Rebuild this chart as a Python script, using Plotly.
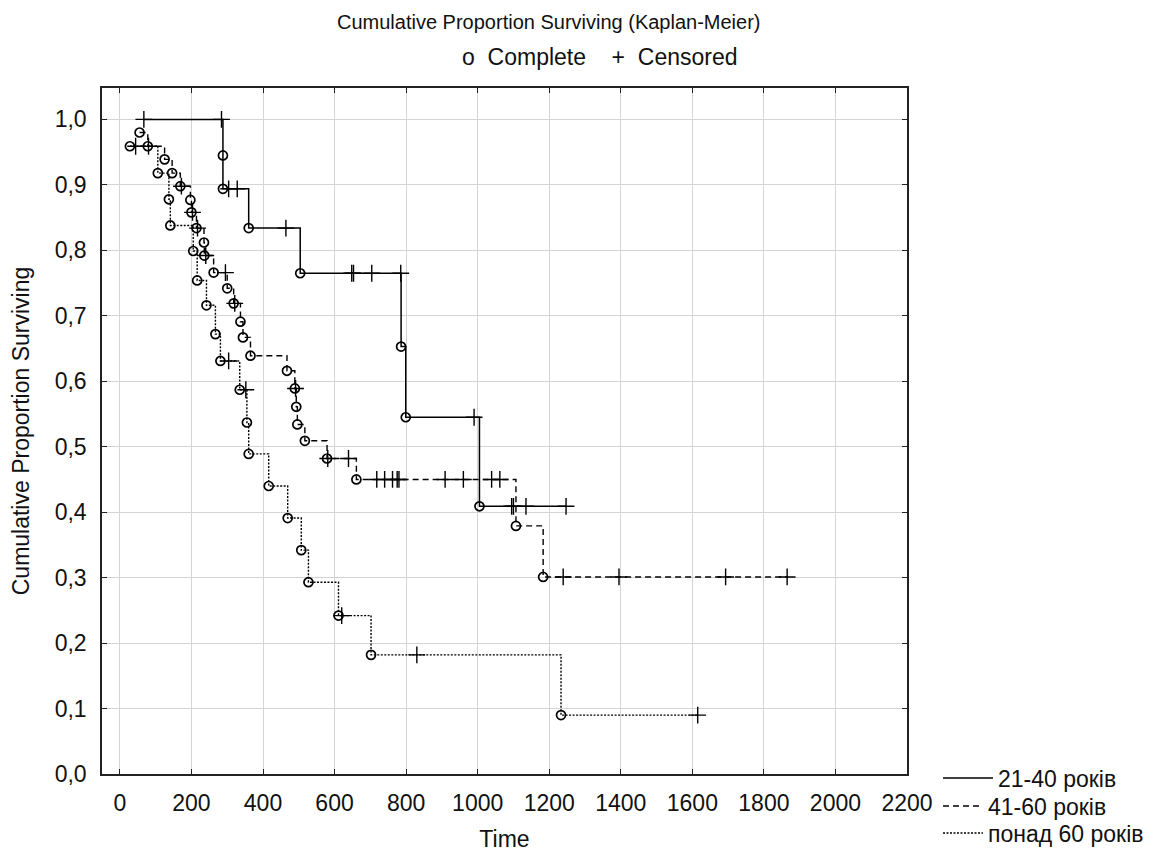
import plotly.graph_objects as go

# ---------------- data ----------------
# status: 1 = complete (event), 0 = censored
g1_time = [67, 284, 288, 288, 304, 328, 360, 464, 504, 648, 653, 704, 785, 786, 799, 990, 1005, 1095, 1100, 1135, 1247]
g1_surv = [1.0, 1.0, 0.945, 0.894, 0.894, 0.894, 0.834, 0.834, 0.765, 0.765, 0.765, 0.765, 0.765, 0.653, 0.545, 0.545, 0.409, 0.409, 0.409, 0.409, 0.409]
g1_status = [0, 0, 1, 1, 0, 0, 1, 0, 1, 0, 0, 0, 0, 1, 1, 0, 1, 0, 0, 0, 0]

g2_time = [55, 78, 80, 125, 146, 169, 172, 197, 200, 203, 214, 217, 235, 236, 240, 262, 295, 300, 318, 321, 337, 344, 365,
           467, 489, 491, 493, 496, 517, 579, 581, 639, 661, 718, 740, 762, 775, 780, 909, 960, 1039, 1062, 1107, 1183,
           1239, 1395, 1693, 1865]
g2_surv = [0.980, 0.959, 0.959, 0.939, 0.918, 0.898, 0.898, 0.877, 0.858, 0.858, 0.834, 0.834, 0.812, 0.792, 0.792, 0.766,
           0.766, 0.742, 0.719, 0.719, 0.691, 0.667, 0.639, 0.616, 0.589, 0.589, 0.561, 0.534, 0.509, 0.482, 0.482, 0.482,
           0.450, 0.450, 0.450, 0.450, 0.450, 0.450, 0.450, 0.450, 0.450, 0.450, 0.379, 0.301, 0.301, 0.301, 0.301, 0.301]
g2_status = [1, 1, 0, 1, 1, 1, 0, 1, 1, 0, 1, 0, 1, 1, 0, 1, 0, 1, 1, 0, 1, 1, 1,
             1, 1, 0, 1, 1, 1, 1, 0, 0, 1, 0, 0, 0, 0, 0, 0, 0, 0, 0, 1, 1,
             0, 0, 0, 0]

g3_time = [28, 44, 106, 137, 141, 205, 216, 242, 267, 281, 304, 335, 352, 355, 360, 416, 469, 507, 527, 611, 620, 702, 830, 1233, 1615]
g3_surv = [0.959, 0.959, 0.918, 0.878, 0.838, 0.799, 0.754, 0.716, 0.672, 0.631, 0.631, 0.587, 0.587, 0.537, 0.489, 0.440,
           0.391, 0.342, 0.293, 0.242, 0.242, 0.182, 0.182, 0.090, 0.090]
g3_status = [1, 0, 1, 1, 1, 1, 1, 1, 1, 1, 0, 1, 0, 1, 1, 1, 1, 1, 1, 1, 0, 1, 0, 1, 0]

group_names = ["21-40 років", "41-60 років", "понад 60 років"]

x_tickvals = [0, 200, 400, 600, 800, 1000, 1200, 1400, 1600, 1800, 2000, 2200]
x_ticktext = ["0", "200", "400", "600", "800", "1000", "1200", "1400", "1600", "1800", "2000", "2200"]
y_tickvals = [0.0, 0.1, 0.2, 0.3, 0.4, 0.5, 0.6, 0.7, 0.8, 0.9, 1.0]
y_ticktext = ["0,0", "0,1", "0,2", "0,3", "0,4", "0,5", "0,6", "0,7", "0,8", "0,9", "1,0"]

title_text = "Cumulative Proportion Surviving (Kaplan-Meier)"
subtitle_text = "o  Complete    +  Censored"
x_title = "Time"
y_title = "Cumulative Proportion Surviving"

# ---------------- figure ----------------
FONT = "Liberation Sans, Arial, sans-serif"
FS = 23
dashes = ["solid", "6px,4px", "2px,1.5px"]
widths = [1.5, 1.4, 1.4]

L, R, T, B = 102, 256, 88, 78
PW, PH = 1163 - L - R, 852 - T - B

fig = go.Figure()
groups = [(g1_time, g1_surv, g1_status), (g2_time, g2_surv, g2_status), (g3_time, g3_surv, g3_status)]
for (t, s, st), dash, w in zip(groups, dashes, widths):
    fig.add_trace(go.Scatter(x=t, y=s, mode="lines", line=dict(color="black", width=w, dash=dash, shape="hv"),
                             showlegend=False, hoverinfo="skip"))
    fig.add_trace(go.Scatter(x=[a for a, c in zip(t, st) if c == 1], y=[b for b, c in zip(s, st) if c == 1],
                             mode="markers", showlegend=False,
                             marker=dict(symbol="circle-open", size=9, color="black", line=dict(width=1.7, color="black"))))
    fig.add_trace(go.Scatter(x=[a for a, c in zip(t, st) if c == 0], y=[b for b, c in zip(s, st) if c == 0],
                             mode="markers", showlegend=False,
                             marker=dict(symbol="cross-thin-open", size=12, color="black", line=dict(width=1.4, color="black"))))

legend_ids = ["legend", "legend2", "legend3"]
for name, dash, w, lid in zip(group_names, dashes, widths, legend_ids):
    fig.add_trace(go.Scatter(x=[None], y=[None], mode="lines", name=name, legend=lid,
                             line=dict(color="black", width=w, dash=dash)))

axis_common = dict(showgrid=True, gridcolor="#d4d4d4", gridwidth=1, showline=True, linecolor="#222", linewidth=1.5,
                   mirror="ticks", ticks="inside", ticklen=5, tickcolor="#222", tickwidth=1.2, zeroline=False,
                   automargin=False, tickfont=dict(family=FONT, size=FS, color="#111"))


def legend_box(row_y, item_w):
    return dict(x=(938 - L) / PW, xanchor="left", y=(852 - B - row_y) / PH, yanchor="middle",
                font=dict(family=FONT, size=FS, color="#111"), bgcolor="rgba(0,0,0,0)",
                itemwidth=item_w, borderwidth=0)


fig.update_layout(
    width=1163, height=852,
    margin=dict(l=L, r=R, t=T, b=B, autoexpand=False),
    paper_bgcolor="white", plot_bgcolor="white",
    font=dict(family=FONT, color="#111"),
    xaxis=dict(range=[-50, 2200], tickvals=x_tickvals, ticktext=x_ticktext, ticklabelstandoff=8,
               title=dict(text=x_title, font=dict(size=FS), standoff=22), **axis_common),
    yaxis=dict(range=[0, 1.048], tickvals=y_tickvals, ticktext=y_ticktext, ticklabelstandoff=9,
               title=dict(text=y_title, font=dict(size=FS), standoff=19), **axis_common),
    legend=legend_box(778, 50),
    legend2=legend_box(806, 40),
    legend3=legend_box(833, 40),
    annotations=[
        dict(text=title_text, xref="paper", yref="paper", x=(549 - L) / PW, y=1 + (T - 22) / PH,
             xanchor="center", yanchor="middle", showarrow=False, font=dict(family=FONT, size=20, color="#111")),
        dict(text=subtitle_text, xref="paper", yref="paper", x=(600 - L) / PW, y=1 + (T - 57) / PH,
             xanchor="center", yanchor="middle", showarrow=False, font=dict(family=FONT, size=FS, color="#111")),
    ],
)

fig.write_html("out.html", config={"displayModeBar": False},
               post_script="document.body.style.margin='0';document.body.style.overflow='hidden';")
